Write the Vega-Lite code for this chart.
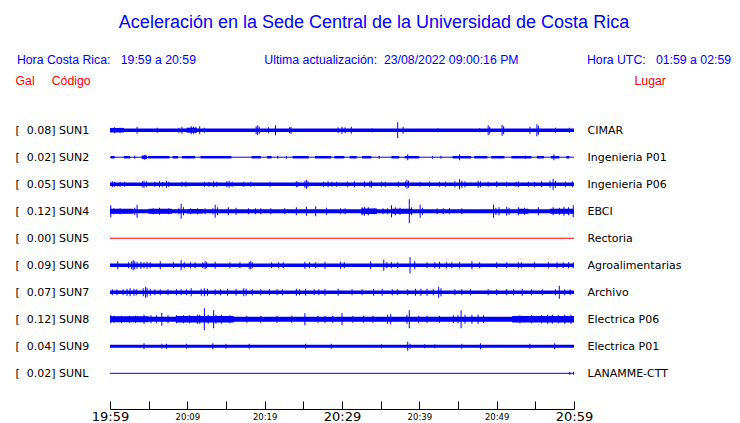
{
  "$schema": "https://vega.github.io/schema/vega-lite/v6.json",
  "width": 464,
  "height": 314,
  "autosize": {"type": "none"},
  "padding": {"left": 110, "top": 95, "right": 166, "bottom": 14},
  "title": {
    "text": "Aceleración en la Sede Central de la Universidad de Costa Rica",
    "subtitle": "Hora Costa Rica:\u00a0\u00a0\u00a019:59 a 20:59\u00a0\u00a0\u00a0\u00a0\u00a0\u00a0\u00a0\u00a0\u00a0\u00a0\u00a0\u00a0\u00a0\u00a0\u00a0\u00a0\u00a0\u00a0\u00a0\u00a0Ultima actualización:\u00a0\u00a023/08/2022 09:00:16 PM\u00a0\u00a0\u00a0\u00a0\u00a0\u00a0\u00a0\u00a0\u00a0\u00a0\u00a0\u00a0\u00a0\u00a0\u00a0\u00a0\u00a0\u00a0\u00a0\u00a0Hora UTC:\u00a0\u00a0\u00a001:59 a 02:59",
    "anchor": "middle",
    "frame": "group",
    "dx": 32,
    "offset": 8,
    "font": "Liberation Sans",
    "fontSize": 18,
    "fontWeight": "normal",
    "color": "#0000ff",
    "subtitleFont": "Liberation Sans",
    "subtitleFontSize": 12.3,
    "subtitleColor": "#0000ff",
    "subtitlePadding": 22
  },
  "datasets": {
    "rows": [
      {"station": "SUN1", "peak": 0.08, "label": "[\u00a0\u00a00.08] SUN1", "place": "CIMAR"},
      {"station": "SUN2", "peak": 0.02, "label": "[\u00a0\u00a00.02] SUN2", "place": "Ingenieria P01"},
      {"station": "SUN3", "peak": 0.05, "label": "[\u00a0\u00a00.05] SUN3", "place": "Ingenieria P06"},
      {"station": "SUN4", "peak": 0.12, "label": "[\u00a0\u00a00.12] SUN4", "place": "EBCI"},
      {"station": "SUN5", "peak": 0.00, "label": "[\u00a0\u00a00.00] SUN5", "place": "Rectoria"},
      {"station": "SUN6", "peak": 0.09, "label": "[\u00a0\u00a00.09] SUN6", "place": "Agroalimentarias"},
      {"station": "SUN7", "peak": 0.07, "label": "[\u00a0\u00a00.07] SUN7", "place": "Archivo"},
      {"station": "SUN8", "peak": 0.12, "label": "[\u00a0\u00a00.12] SUN8", "place": "Electrica P06"},
      {"station": "SUN9", "peak": 0.04, "label": "[\u00a0\u00a00.04] SUN9", "place": "Electrica P01"},
      {"station": "SUNL", "peak": 0.02, "label": "[\u00a0\u00a00.02] SUNL", "place": "LANAMME-CTT"}
    ],
    "seg": [
      {"station": "SUN1", "t": 0, "t2": 60, "amp": 3.5},
      {"station": "SUN1", "t": 0, "t2": 1.8, "amp": 4.5},
      {"station": "SUN1", "t": 9.9, "t2": 11.2, "amp": 5},
      {"station": "SUN2", "t": 0, "t2": 60, "amp": 1},
      {"station": "SUN2", "t": 0.1, "t2": 0.6, "amp": 2.5},
      {"station": "SUN2", "t": 1.8, "t2": 2.6, "amp": 2.5},
      {"station": "SUN2", "t": 4.1, "t2": 4.8, "amp": 3.5},
      {"station": "SUN2", "t": 4.9, "t2": 7.7, "amp": 2.5},
      {"station": "SUN2", "t": 8.1, "t2": 8.8, "amp": 2.5},
      {"station": "SUN2", "t": 9.3, "t2": 11.0, "amp": 2.5},
      {"station": "SUN2", "t": 11.7, "t2": 15.7, "amp": 2.5},
      {"station": "SUN2", "t": 18.3, "t2": 19.5, "amp": 2.5},
      {"station": "SUN2", "t": 20.3, "t2": 20.9, "amp": 2.5},
      {"station": "SUN2", "t": 23.6, "t2": 25.7, "amp": 2.5},
      {"station": "SUN2", "t": 26.5, "t2": 28.6, "amp": 2.5},
      {"station": "SUN2", "t": 29.0, "t2": 30.3, "amp": 2.5},
      {"station": "SUN2", "t": 31.0, "t2": 31.9, "amp": 2.5},
      {"station": "SUN2", "t": 32.6, "t2": 33.8, "amp": 2.5},
      {"station": "SUN2", "t": 36.4, "t2": 37.4, "amp": 2.5},
      {"station": "SUN2", "t": 38.1, "t2": 40.0, "amp": 2.5},
      {"station": "SUN2", "t": 44.3, "t2": 46.7, "amp": 2.5},
      {"station": "SUN2", "t": 47.1, "t2": 48.8, "amp": 2.5},
      {"station": "SUN2", "t": 49.3, "t2": 51.0, "amp": 2.5},
      {"station": "SUN2", "t": 51.9, "t2": 54.5, "amp": 2.5},
      {"station": "SUN2", "t": 55.2, "t2": 56.1, "amp": 2.5},
      {"station": "SUN2", "t": 57.0, "t2": 58.1, "amp": 2.5},
      {"station": "SUN2", "t": 59.0, "t2": 59.4, "amp": 2.5},
      {"station": "SUN3", "t": 0, "t2": 60, "amp": 3.5},
      {"station": "SUN4", "t": 0, "t2": 60, "amp": 4},
      {"station": "SUN4", "t": 0, "t2": 3, "amp": 5},
      {"station": "SUN4", "t": 5, "t2": 8, "amp": 5},
      {"station": "SUN4", "t": 10, "t2": 12, "amp": 4.5},
      {"station": "SUN4", "t": 32.5, "t2": 34.5, "amp": 5.5},
      {"station": "SUN4", "t": 36.5, "t2": 39, "amp": 5},
      {"station": "SUN4", "t": 52.8, "t2": 54.1, "amp": 5},
      {"station": "SUN4", "t": 56.9, "t2": 60, "amp": 5},
      {"station": "SUN5", "t": 0, "t2": 60, "amp": 1},
      {"station": "SUN6", "t": 0, "t2": 60, "amp": 3.5},
      {"station": "SUN7", "t": 0, "t2": 60, "amp": 3.5},
      {"station": "SUN8", "t": 0, "t2": 60, "amp": 5},
      {"station": "SUN8", "t": 0, "t2": 5, "amp": 6},
      {"station": "SUN8", "t": 8.5, "t2": 16, "amp": 6.5},
      {"station": "SUN8", "t": 52, "t2": 60, "amp": 6.5},
      {"station": "SUN9", "t": 0, "t2": 60, "amp": 3},
      {"station": "SUNL", "t": 0, "t2": 60, "amp": 1}
    ],
    "spk": [
      {"station": "SUN1", "t": 0.6, "amp": 6}, {"station": "SUN1", "t": 1.3, "amp": 5}, {"station": "SUN1", "t": 3.5, "amp": 7},
      {"station": "SUN1", "t": 6.1, "amp": 5}, {"station": "SUN1", "t": 8.9, "amp": 5}, {"station": "SUN1", "t": 9.3, "amp": 7},
      {"station": "SUN1", "t": 10.5, "amp": 8}, {"station": "SUN1", "t": 10.8, "amp": 7}, {"station": "SUN1", "t": 11.1, "amp": 6},
      {"station": "SUN1", "t": 11.6, "amp": 8}, {"station": "SUN1", "t": 12.2, "amp": 5}, {"station": "SUN1", "t": 18.9, "amp": 8},
      {"station": "SUN1", "t": 19.1, "amp": 10}, {"station": "SUN1", "t": 19.3, "amp": 7}, {"station": "SUN1", "t": 20.5, "amp": 6},
      {"station": "SUN1", "t": 21.4, "amp": 10}, {"station": "SUN1", "t": 23.2, "amp": 6}, {"station": "SUN1", "t": 23.4, "amp": 7},
      {"station": "SUN1", "t": 29.5, "amp": 6}, {"station": "SUN1", "t": 30.0, "amp": 7}, {"station": "SUN1", "t": 30.4, "amp": 6},
      {"station": "SUN1", "t": 31.2, "amp": 7}, {"station": "SUN1", "t": 33.9, "amp": 4}, {"station": "SUN1", "t": 37.2, "amp": 16},
      {"station": "SUN1", "t": 37.9, "amp": 7}, {"station": "SUN1", "t": 42.4, "amp": 4}, {"station": "SUN1", "t": 47.8, "amp": 4},
      {"station": "SUN1", "t": 48.9, "amp": 10}, {"station": "SUN1", "t": 49.1, "amp": 7}, {"station": "SUN1", "t": 50.7, "amp": 11},
      {"station": "SUN1", "t": 50.9, "amp": 8}, {"station": "SUN1", "t": 54.3, "amp": 7}, {"station": "SUN1", "t": 55.2, "amp": 12},
      {"station": "SUN1", "t": 55.4, "amp": 9}, {"station": "SUN1", "t": 57.6, "amp": 5}, {"station": "SUN1", "t": 59.4, "amp": 5},
      {"station": "SUN2", "t": 4.5, "amp": 5}, {"station": "SUN2", "t": 38.5, "amp": 6}, {"station": "SUN2", "t": 45.2, "amp": 6},
      {"station": "SUN2", "t": 57.4, "amp": 6}, {"station": "SUN2", "t": 3.2, "amp": 3}, {"station": "SUN2", "t": 21.7, "amp": 3},
      {"station": "SUN2", "t": 22.8, "amp": 3}, {"station": "SUN2", "t": 34.8, "amp": 3}, {"station": "SUN2", "t": 41.7, "amp": 3},
      {"station": "SUN2", "t": 42.8, "amp": 3}, {"station": "SUN2", "t": 53.7, "amp": 3},
      {"station": "SUN3", "t": 0.3, "amp": 6}, {"station": "SUN3", "t": 0.6, "amp": 5}, {"station": "SUN3", "t": 1.3, "amp": 5},
      {"station": "SUN3", "t": 1.9, "amp": 5}, {"station": "SUN3", "t": 4.2, "amp": 6}, {"station": "SUN3", "t": 4.4, "amp": 7},
      {"station": "SUN3", "t": 4.7, "amp": 6}, {"station": "SUN3", "t": 5.8, "amp": 5}, {"station": "SUN3", "t": 6.4, "amp": 6},
      {"station": "SUN3", "t": 6.8, "amp": 5}, {"station": "SUN3", "t": 7.3, "amp": 7}, {"station": "SUN3", "t": 7.6, "amp": 5},
      {"station": "SUN3", "t": 9.3, "amp": 5}, {"station": "SUN3", "t": 9.8, "amp": 5}, {"station": "SUN3", "t": 12.2, "amp": 5},
      {"station": "SUN3", "t": 12.8, "amp": 5}, {"station": "SUN3", "t": 13.4, "amp": 6}, {"station": "SUN3", "t": 13.8, "amp": 5},
      {"station": "SUN3", "t": 15.1, "amp": 6}, {"station": "SUN3", "t": 15.4, "amp": 7}, {"station": "SUN3", "t": 15.8, "amp": 5},
      {"station": "SUN3", "t": 17.3, "amp": 5}, {"station": "SUN3", "t": 18.2, "amp": 5}, {"station": "SUN3", "t": 20.7, "amp": 5},
      {"station": "SUN3", "t": 24.1, "amp": 6}, {"station": "SUN3", "t": 24.3, "amp": 5}, {"station": "SUN3", "t": 25.2, "amp": 7},
      {"station": "SUN3", "t": 25.4, "amp": 9}, {"station": "SUN3", "t": 25.6, "amp": 6}, {"station": "SUN3", "t": 27.6, "amp": 5},
      {"station": "SUN3", "t": 28.2, "amp": 6}, {"station": "SUN3", "t": 28.7, "amp": 5}, {"station": "SUN3", "t": 29.3, "amp": 5},
      {"station": "SUN3", "t": 30.7, "amp": 5}, {"station": "SUN3", "t": 31.6, "amp": 6}, {"station": "SUN3", "t": 32.9, "amp": 6},
      {"station": "SUN3", "t": 33.6, "amp": 6}, {"station": "SUN3", "t": 33.8, "amp": 7}, {"station": "SUN3", "t": 35.1, "amp": 5},
      {"station": "SUN3", "t": 35.6, "amp": 5}, {"station": "SUN3", "t": 37.3, "amp": 5}, {"station": "SUN3", "t": 38.2, "amp": 6},
      {"station": "SUN3", "t": 38.4, "amp": 9}, {"station": "SUN3", "t": 38.6, "amp": 7}, {"station": "SUN3", "t": 40.1, "amp": 5},
      {"station": "SUN3", "t": 41.3, "amp": 5}, {"station": "SUN3", "t": 42.6, "amp": 5}, {"station": "SUN3", "t": 43.4, "amp": 5},
      {"station": "SUN3", "t": 44.6, "amp": 6}, {"station": "SUN3", "t": 45.2, "amp": 10}, {"station": "SUN3", "t": 45.5, "amp": 7},
      {"station": "SUN3", "t": 45.9, "amp": 6}, {"station": "SUN3", "t": 47.6, "amp": 7}, {"station": "SUN3", "t": 47.9, "amp": 6},
      {"station": "SUN3", "t": 48.9, "amp": 5}, {"station": "SUN3", "t": 50.0, "amp": 6}, {"station": "SUN3", "t": 51.3, "amp": 5},
      {"station": "SUN3", "t": 52.5, "amp": 5}, {"station": "SUN3", "t": 52.8, "amp": 6}, {"station": "SUN3", "t": 54.1, "amp": 5},
      {"station": "SUN3", "t": 54.9, "amp": 5}, {"station": "SUN3", "t": 55.8, "amp": 6}, {"station": "SUN3", "t": 56.9, "amp": 7},
      {"station": "SUN3", "t": 57.3, "amp": 11}, {"station": "SUN3", "t": 57.6, "amp": 7}, {"station": "SUN3", "t": 58.9, "amp": 5},
      {"station": "SUN3", "t": 59.8, "amp": 6},
      {"station": "SUN4", "t": 0.1, "amp": 12}, {"station": "SUN4", "t": 0.5, "amp": 6}, {"station": "SUN4", "t": 1.3, "amp": 6},
      {"station": "SUN4", "t": 3.2, "amp": 7}, {"station": "SUN4", "t": 3.5, "amp": 13}, {"station": "SUN4", "t": 5.6, "amp": 6},
      {"station": "SUN4", "t": 6.4, "amp": 7}, {"station": "SUN4", "t": 7.6, "amp": 6}, {"station": "SUN4", "t": 8.9, "amp": 6},
      {"station": "SUN4", "t": 9.2, "amp": 15}, {"station": "SUN4", "t": 9.5, "amp": 8}, {"station": "SUN4", "t": 10.4, "amp": 6},
      {"station": "SUN4", "t": 11.3, "amp": 6}, {"station": "SUN4", "t": 12.3, "amp": 6}, {"station": "SUN4", "t": 13.3, "amp": 6},
      {"station": "SUN4", "t": 13.6, "amp": 13}, {"station": "SUN4", "t": 13.9, "amp": 8}, {"station": "SUN4", "t": 15.3, "amp": 8},
      {"station": "SUN4", "t": 16.3, "amp": 7}, {"station": "SUN4", "t": 17.9, "amp": 6}, {"station": "SUN4", "t": 18.8, "amp": 6},
      {"station": "SUN4", "t": 19.5, "amp": 6}, {"station": "SUN4", "t": 20.8, "amp": 6}, {"station": "SUN4", "t": 22.6, "amp": 6},
      {"station": "SUN4", "t": 24.1, "amp": 8}, {"station": "SUN4", "t": 25.4, "amp": 9}, {"station": "SUN4", "t": 26.6, "amp": 10},
      {"station": "SUN4", "t": 28.0, "amp": 7}, {"station": "SUN4", "t": 29.8, "amp": 6}, {"station": "SUN4", "t": 30.4, "amp": 6},
      {"station": "SUN4", "t": 32.6, "amp": 8}, {"station": "SUN4", "t": 32.9, "amp": 9}, {"station": "SUN4", "t": 33.4, "amp": 8},
      {"station": "SUN4", "t": 34.2, "amp": 6}, {"station": "SUN4", "t": 35.3, "amp": 6}, {"station": "SUN4", "t": 35.9, "amp": 6},
      {"station": "SUN4", "t": 36.4, "amp": 12}, {"station": "SUN4", "t": 36.9, "amp": 8}, {"station": "SUN4", "t": 37.5, "amp": 7},
      {"station": "SUN4", "t": 38.7, "amp": 24}, {"station": "SUN4", "t": 39.0, "amp": 8}, {"station": "SUN4", "t": 40.1, "amp": 13},
      {"station": "SUN4", "t": 40.4, "amp": 7}, {"station": "SUN4", "t": 42.3, "amp": 6}, {"station": "SUN4", "t": 43.1, "amp": 6},
      {"station": "SUN4", "t": 43.9, "amp": 6}, {"station": "SUN4", "t": 45.5, "amp": 6}, {"station": "SUN4", "t": 49.6, "amp": 13},
      {"station": "SUN4", "t": 49.9, "amp": 7}, {"station": "SUN4", "t": 50.3, "amp": 8}, {"station": "SUN4", "t": 51.3, "amp": 9},
      {"station": "SUN4", "t": 51.6, "amp": 7}, {"station": "SUN4", "t": 52.8, "amp": 8}, {"station": "SUN4", "t": 53.6, "amp": 7},
      {"station": "SUN4", "t": 55.4, "amp": 8}, {"station": "SUN4", "t": 57.3, "amp": 8}, {"station": "SUN4", "t": 58.1, "amp": 7},
      {"station": "SUN4", "t": 58.7, "amp": 9}, {"station": "SUN4", "t": 59.3, "amp": 8}, {"station": "SUN4", "t": 59.9, "amp": 12},
      {"station": "SUN6", "t": 1.0, "amp": 8}, {"station": "SUN6", "t": 2.4, "amp": 6}, {"station": "SUN6", "t": 2.8, "amp": 8},
      {"station": "SUN6", "t": 3.0, "amp": 10}, {"station": "SUN6", "t": 3.2, "amp": 8}, {"station": "SUN6", "t": 3.5, "amp": 7},
      {"station": "SUN6", "t": 4.0, "amp": 7}, {"station": "SUN6", "t": 4.4, "amp": 6}, {"station": "SUN6", "t": 4.8, "amp": 7},
      {"station": "SUN6", "t": 5.2, "amp": 6}, {"station": "SUN6", "t": 6.5, "amp": 8}, {"station": "SUN6", "t": 8.2, "amp": 6},
      {"station": "SUN6", "t": 9.2, "amp": 10}, {"station": "SUN6", "t": 9.6, "amp": 6}, {"station": "SUN6", "t": 10.4, "amp": 6},
      {"station": "SUN6", "t": 11.0, "amp": 6}, {"station": "SUN6", "t": 12.0, "amp": 6}, {"station": "SUN6", "t": 12.3, "amp": 8},
      {"station": "SUN6", "t": 12.5, "amp": 6}, {"station": "SUN6", "t": 13.6, "amp": 7}, {"station": "SUN6", "t": 15.5, "amp": 6},
      {"station": "SUN6", "t": 16.8, "amp": 6}, {"station": "SUN6", "t": 18.0, "amp": 7}, {"station": "SUN6", "t": 18.2, "amp": 8},
      {"station": "SUN6", "t": 18.4, "amp": 6}, {"station": "SUN6", "t": 20.9, "amp": 6}, {"station": "SUN6", "t": 21.8, "amp": 6},
      {"station": "SUN6", "t": 22.4, "amp": 6}, {"station": "SUN6", "t": 25.2, "amp": 7}, {"station": "SUN6", "t": 25.8, "amp": 6},
      {"station": "SUN6", "t": 26.6, "amp": 6}, {"station": "SUN6", "t": 27.8, "amp": 7}, {"station": "SUN6", "t": 29.8, "amp": 7},
      {"station": "SUN6", "t": 30.3, "amp": 6}, {"station": "SUN6", "t": 33.7, "amp": 8}, {"station": "SUN6", "t": 35.4, "amp": 11},
      {"station": "SUN6", "t": 35.8, "amp": 6}, {"station": "SUN6", "t": 36.4, "amp": 6}, {"station": "SUN6", "t": 37.2, "amp": 6},
      {"station": "SUN6", "t": 38.8, "amp": 16}, {"station": "SUN6", "t": 39.4, "amp": 8}, {"station": "SUN6", "t": 41.0, "amp": 6},
      {"station": "SUN6", "t": 42.0, "amp": 6}, {"station": "SUN6", "t": 42.6, "amp": 7}, {"station": "SUN6", "t": 43.5, "amp": 6},
      {"station": "SUN6", "t": 44.2, "amp": 6}, {"station": "SUN6", "t": 45.2, "amp": 6}, {"station": "SUN6", "t": 46.8, "amp": 8},
      {"station": "SUN6", "t": 47.8, "amp": 6}, {"station": "SUN6", "t": 50.0, "amp": 6}, {"station": "SUN6", "t": 51.3, "amp": 6},
      {"station": "SUN6", "t": 52.8, "amp": 6}, {"station": "SUN6", "t": 53.2, "amp": 6}, {"station": "SUN6", "t": 54.9, "amp": 6},
      {"station": "SUN6", "t": 56.7, "amp": 6}, {"station": "SUN6", "t": 57.8, "amp": 6}, {"station": "SUN6", "t": 58.6, "amp": 6},
      {"station": "SUN6", "t": 59.3, "amp": 6}, {"station": "SUN6", "t": 59.9, "amp": 6},
      {"station": "SUN7", "t": 0.3, "amp": 6}, {"station": "SUN7", "t": 0.9, "amp": 6}, {"station": "SUN7", "t": 1.7, "amp": 6},
      {"station": "SUN7", "t": 2.2, "amp": 7}, {"station": "SUN7", "t": 2.6, "amp": 8}, {"station": "SUN7", "t": 3.1, "amp": 7},
      {"station": "SUN7", "t": 3.4, "amp": 6}, {"station": "SUN7", "t": 4.3, "amp": 8}, {"station": "SUN7", "t": 4.6, "amp": 11},
      {"station": "SUN7", "t": 4.8, "amp": 9}, {"station": "SUN7", "t": 5.2, "amp": 7}, {"station": "SUN7", "t": 5.8, "amp": 6},
      {"station": "SUN7", "t": 6.5, "amp": 6}, {"station": "SUN7", "t": 7.5, "amp": 6}, {"station": "SUN7", "t": 8.6, "amp": 6},
      {"station": "SUN7", "t": 9.2, "amp": 6}, {"station": "SUN7", "t": 9.9, "amp": 6}, {"station": "SUN7", "t": 10.5, "amp": 8},
      {"station": "SUN7", "t": 11.8, "amp": 7}, {"station": "SUN7", "t": 12.2, "amp": 8}, {"station": "SUN7", "t": 12.6, "amp": 7},
      {"station": "SUN7", "t": 13.6, "amp": 6}, {"station": "SUN7", "t": 14.3, "amp": 6}, {"station": "SUN7", "t": 15.2, "amp": 7},
      {"station": "SUN7", "t": 16.3, "amp": 7}, {"station": "SUN7", "t": 17.3, "amp": 8}, {"station": "SUN7", "t": 17.6, "amp": 7},
      {"station": "SUN7", "t": 18.4, "amp": 6}, {"station": "SUN7", "t": 19.5, "amp": 6}, {"station": "SUN7", "t": 20.6, "amp": 6},
      {"station": "SUN7", "t": 21.6, "amp": 6}, {"station": "SUN7", "t": 22.3, "amp": 6}, {"station": "SUN7", "t": 24.1, "amp": 7},
      {"station": "SUN7", "t": 24.5, "amp": 6}, {"station": "SUN7", "t": 25.3, "amp": 7}, {"station": "SUN7", "t": 26.4, "amp": 6},
      {"station": "SUN7", "t": 27.0, "amp": 6}, {"station": "SUN7", "t": 27.8, "amp": 7}, {"station": "SUN7", "t": 29.5, "amp": 7},
      {"station": "SUN7", "t": 31.3, "amp": 6}, {"station": "SUN7", "t": 32.6, "amp": 6}, {"station": "SUN7", "t": 34.1, "amp": 7},
      {"station": "SUN7", "t": 35.2, "amp": 7}, {"station": "SUN7", "t": 36.5, "amp": 6}, {"station": "SUN7", "t": 37.2, "amp": 6},
      {"station": "SUN7", "t": 38.5, "amp": 6}, {"station": "SUN7", "t": 39.5, "amp": 7}, {"station": "SUN7", "t": 40.2, "amp": 7},
      {"station": "SUN7", "t": 41.0, "amp": 7}, {"station": "SUN7", "t": 41.8, "amp": 6}, {"station": "SUN7", "t": 42.5, "amp": 11},
      {"station": "SUN7", "t": 42.8, "amp": 8}, {"station": "SUN7", "t": 44.6, "amp": 6}, {"station": "SUN7", "t": 45.5, "amp": 6},
      {"station": "SUN7", "t": 46.6, "amp": 6}, {"station": "SUN7", "t": 48.9, "amp": 6}, {"station": "SUN7", "t": 50.0, "amp": 6},
      {"station": "SUN7", "t": 51.3, "amp": 6}, {"station": "SUN7", "t": 52.2, "amp": 6}, {"station": "SUN7", "t": 53.3, "amp": 7},
      {"station": "SUN7", "t": 54.5, "amp": 6}, {"station": "SUN7", "t": 55.9, "amp": 6}, {"station": "SUN7", "t": 57.6, "amp": 6},
      {"station": "SUN7", "t": 58.1, "amp": 13}, {"station": "SUN7", "t": 58.8, "amp": 6}, {"station": "SUN7", "t": 59.5, "amp": 6},
      {"station": "SUN8", "t": 0.1, "amp": 8}, {"station": "SUN8", "t": 0.5, "amp": 7}, {"station": "SUN8", "t": 1.5, "amp": 7},
      {"station": "SUN8", "t": 2.5, "amp": 7}, {"station": "SUN8", "t": 3.3, "amp": 7}, {"station": "SUN8", "t": 4.4, "amp": 9},
      {"station": "SUN8", "t": 5.3, "amp": 8}, {"station": "SUN8", "t": 6.0, "amp": 8}, {"station": "SUN8", "t": 6.7, "amp": 13},
      {"station": "SUN8", "t": 7.5, "amp": 8}, {"station": "SUN8", "t": 8.6, "amp": 8}, {"station": "SUN8", "t": 9.5, "amp": 8},
      {"station": "SUN8", "t": 10.3, "amp": 8}, {"station": "SUN8", "t": 11.3, "amp": 9}, {"station": "SUN8", "t": 11.6, "amp": 9},
      {"station": "SUN8", "t": 12.2, "amp": 22}, {"station": "SUN8", "t": 12.7, "amp": 9}, {"station": "SUN8", "t": 13.4, "amp": 18},
      {"station": "SUN8", "t": 13.7, "amp": 9}, {"station": "SUN8", "t": 14.4, "amp": 9}, {"station": "SUN8", "t": 15.5, "amp": 8},
      {"station": "SUN8", "t": 17.7, "amp": 7}, {"station": "SUN8", "t": 19.5, "amp": 7}, {"station": "SUN8", "t": 21.6, "amp": 7},
      {"station": "SUN8", "t": 23.5, "amp": 7}, {"station": "SUN8", "t": 25.2, "amp": 12}, {"station": "SUN8", "t": 26.9, "amp": 7},
      {"station": "SUN8", "t": 27.8, "amp": 7}, {"station": "SUN8", "t": 28.8, "amp": 7}, {"station": "SUN8", "t": 30.0, "amp": 12},
      {"station": "SUN8", "t": 31.4, "amp": 7}, {"station": "SUN8", "t": 32.8, "amp": 7}, {"station": "SUN8", "t": 34.0, "amp": 7},
      {"station": "SUN8", "t": 35.9, "amp": 9}, {"station": "SUN8", "t": 36.3, "amp": 10}, {"station": "SUN8", "t": 38.4, "amp": 9},
      {"station": "SUN8", "t": 38.7, "amp": 18}, {"station": "SUN8", "t": 39.9, "amp": 7}, {"station": "SUN8", "t": 41.0, "amp": 7},
      {"station": "SUN8", "t": 42.6, "amp": 7}, {"station": "SUN8", "t": 44.4, "amp": 8}, {"station": "SUN8", "t": 45.0, "amp": 8},
      {"station": "SUN8", "t": 45.4, "amp": 18}, {"station": "SUN8", "t": 45.9, "amp": 9}, {"station": "SUN8", "t": 46.8, "amp": 9},
      {"station": "SUN8", "t": 47.6, "amp": 9}, {"station": "SUN8", "t": 48.3, "amp": 8}, {"station": "SUN8", "t": 53.0, "amp": 8},
      {"station": "SUN8", "t": 54.5, "amp": 8}, {"station": "SUN8", "t": 55.8, "amp": 8}, {"station": "SUN8", "t": 56.6, "amp": 9},
      {"station": "SUN8", "t": 57.2, "amp": 9}, {"station": "SUN8", "t": 58.0, "amp": 8}, {"station": "SUN8", "t": 58.8, "amp": 9},
      {"station": "SUN8", "t": 59.6, "amp": 9},
      {"station": "SUN9", "t": 4.4, "amp": 6}, {"station": "SUN9", "t": 6.7, "amp": 5}, {"station": "SUN9", "t": 7.3, "amp": 5},
      {"station": "SUN9", "t": 9.9, "amp": 5}, {"station": "SUN9", "t": 13.3, "amp": 6}, {"station": "SUN9", "t": 15.0, "amp": 5},
      {"station": "SUN9", "t": 18.0, "amp": 5}, {"station": "SUN9", "t": 25.3, "amp": 5}, {"station": "SUN9", "t": 28.6, "amp": 5},
      {"station": "SUN9", "t": 35.1, "amp": 4}, {"station": "SUN9", "t": 38.5, "amp": 9}, {"station": "SUN9", "t": 38.8, "amp": 5},
      {"station": "SUN9", "t": 40.7, "amp": 4}, {"station": "SUN9", "t": 42.0, "amp": 4}, {"station": "SUN9", "t": 45.5, "amp": 5},
      {"station": "SUN9", "t": 47.9, "amp": 6}, {"station": "SUN9", "t": 54.3, "amp": 5}, {"station": "SUN9", "t": 57.5, "amp": 6},
      {"station": "SUNL", "t": 59.45, "amp": 3}, {"station": "SUNL", "t": 59.95, "amp": 3}
    ]
  },
  "layer": [
    {
      "data": {"name": "rows"},
      "mark": {"type": "point", "opacity": 0},
      "encoding": {
        "y": {
          "field": "label", "type": "nominal", "sort": null,
          "scale": {"type": "point", "padding": 0, "range": [35.2, 278.3]},
          "axis": {
            "orient": "left", "ticks": false, "domain": false, "grid": false,
            "labelAlign": "left", "labelBaseline": "middle", "labelPadding": 95,
            "labelFont": "DejaVu Sans", "labelFontSize": 11, "labelColor": "#000000", "labelLimit": 200,
            "title": "Gal\u00a0\u00a0\u00a0\u00a0\u00a0Código", "titleAngle": 0, "titleAlign": "left", "titleBaseline": "middle",
            "titleX": -95, "titleY": -15, "titleColor": "#ff0000", "titleFont": "Liberation Sans",
            "titleFontSize": 12.3, "titleFontWeight": "normal"
          }
        }
      }
    },
    {
      "data": {"name": "rows"},
      "mark": {"type": "point", "opacity": 0},
      "encoding": {
        "y": {
          "field": "place", "type": "nominal", "sort": null,
          "scale": {"type": "point", "padding": 0, "range": [35.2, 278.3]},
          "axis": {
            "orient": "right", "ticks": false, "domain": false, "grid": false,
            "labelAlign": "left", "labelBaseline": "middle", "labelPadding": 13,
            "labelFont": "DejaVu Sans", "labelFontSize": 11, "labelColor": "#000000", "labelLimit": 200,
            "title": "Lugar", "titleAngle": 0, "titleAlign": "left", "titleBaseline": "middle",
            "titleX": 60, "titleY": -15, "titleColor": "#ff0000", "titleFont": "Liberation Sans",
            "titleFontSize": 12.3, "titleFontWeight": "normal"
          }
        }
      }
    },
    {
      "encoding": {
        "x": {
          "field": "t", "type": "quantitative",
          "scale": {"domain": [0, 60], "nice": false, "zero": false},
          "axis": {
            "values": [0, 5, 10, 15, 20, 25, 30, 35, 40, 45, 50, 55, 60],
            "labelExpr": "datum.value % 10 === 0 ? timeFormat(datetime(2022, 7, 23, 19, 59 + datum.value), '%H:%M') : ''",
            "labelFontSize": {"condition": {"test": "datum.value % 30 === 0", "value": 13}, "value": 8.5},
            "labelFont": "DejaVu Sans", "labelColor": "#000000",
            "labelBaseline": "middle", "labelPadding": 15.5, "labelFlush": false, "labelOverlap": false,
            "tickSize": -8, "tickColor": "#000000", "tickWidth": 1,
            "domainColor": "#000000", "domainWidth": 1, "grid": false, "title": null
          }
        },
        "y": {
          "field": "station", "type": "nominal", "sort": null,
          "scale": {"type": "point", "padding": 0, "range": [35.2, 278.3], "domain": ["SUN1", "SUN2", "SUN3", "SUN4", "SUN5", "SUN6", "SUN7", "SUN8", "SUN9", "SUNL"]},
          "axis": null
        }
      },
      "layer": [
        {
          "data": {"name": "seg"},
          "mark": {"type": "rule"},
          "encoding": {
            "x2": {"field": "t2"},
            "strokeWidth": {"field": "amp", "type": "quantitative", "scale": {"domain": [0, 24], "range": [0, 24]}, "legend": null},
            "color": {"condition": {"test": "datum.station === 'SUN5'", "value": "#ff0000"}, "value": "#0000ff"}
          }
        },
        {
          "data": {"name": "spk"},
          "mark": {"type": "tick", "thickness": 1, "opacity": 1, "color": "#0000ff"},
          "encoding": {
            "size": {"field": "amp", "type": "quantitative", "scale": {"domain": [0, 24], "range": [0, 24]}, "legend": null}
          }
        }
      ]
    }
  ],
  "resolve": {"scale": {"y": "independent"}},
  "config": {"view": {"stroke": null}}
}
